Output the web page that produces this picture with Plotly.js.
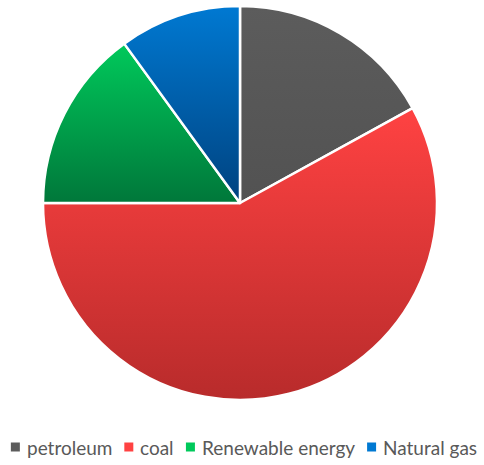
<!DOCTYPE html>
<html>
<head>
<meta charset="utf-8">
<script src="https://cdn.plot.ly/plotly-3.0.1.min.js"></script>
<style>
  html, body { margin: 0; padding: 0; background: #fff; }
  #chart { width: 484px; height: 465px; }
</style>
</head>
<body>
<div id="chart"></div>
<script>
// energy sources and their share (in %)
const labels = ['petroleum', 'coal', 'Renewable energy', 'Natural gas'];
const shares = [17, 58, 15, 10];
// top / bottom shade of each slice (Office style gradient)
const topColors = ['#5c5c5c', '#ff4242', '#00c95b', '#0079d2'];
const bottomColors = ['#525252', '#b82b2b', '#00773a', '#00427f'];

const W = 484, H = 465;
const M = { l: 43, r: 47, t: 6, b: 65 };
const plotW = W - M.l - M.r, plotH = H - M.t - M.b;

// pixel -> paper helpers for the hand made legend row
const px2x = (px) => (px - M.l) / plotW;
const py2y = (py) => (H - M.b - py) / plotH;

const legendFont = { family: 'Lato, sans-serif', size: 19, color: '#595959' };
const legendY = 447;
const boxSize = 9, boxGap = 7, itemGap = 12;

function textWidth(str) {
    const ctx = document.createElement('canvas').getContext('2d');
    ctx.font = legendFont.size + 'px Lato';
    return ctx.measureText(str).width;
}

const widths = labels.map(textWidth);
const total = widths.reduce((a, w) => a + boxSize + boxGap + w, 0) + itemGap * (labels.length - 1);
let cursor = 244 - total / 2;

const annotations = [];
const shapes = [];
labels.forEach((lab, i) => {
    shapes.push({
        type: 'rect', xref: 'paper', yref: 'paper',
        xsizemode: 'pixel', ysizemode: 'pixel',
        xanchor: px2x(cursor + boxSize / 2), yanchor: py2y(legendY),
        x0: -boxSize / 2, x1: boxSize / 2, y0: -boxSize / 2, y1: boxSize / 2,
        fillcolor: topColors[i], line: { width: 0 }
    });
    cursor += boxSize + boxGap;
    annotations.push({
        text: lab, xref: 'paper', yref: 'paper',
        x: px2x(cursor - 2), y: py2y(legendY),
        xanchor: 'left', yanchor: 'middle',
        showarrow: false, font: legendFont
    });
    cursor += widths[i] + itemGap;
});

const trace = {
    type: 'pie',
    labels: labels,
    values: shares,
    sort: false,
    direction: 'clockwise',
    rotation: 0,
    textinfo: 'none',
    hoverinfo: 'label+percent',
    marker: {
        colors: topColors,
        line: { color: '#ffffff', width: 2.5 }
    }
};

const layout = {
    width: W,
    height: H,
    margin: M,
    paper_bgcolor: '#ffffff',
    showlegend: false,
    annotations: annotations,
    shapes: shapes,
    font: { family: 'Lato, sans-serif' }
};

Plotly.newPlot('chart', [trace], layout, { displayModeBar: false, staticPlot: true }).then((gd) => {
    // vertical shading inside every slice
    const svgNS = 'http://www.w3.org/2000/svg';
    const svg = gd.querySelector('.main-svg');
    let defs = svg.querySelector('defs');
    if (!defs) { defs = document.createElementNS(svgNS, 'defs'); svg.prepend(defs); }
    gd.querySelectorAll('.slice path.surface').forEach((p, i) => {
        const g = document.createElementNS(svgNS, 'linearGradient');
        g.setAttribute('id', 'sliceGrad' + i);
        g.setAttribute('x1', '0'); g.setAttribute('y1', '0');
        g.setAttribute('x2', '0'); g.setAttribute('y2', '1');
        [[0, topColors[i]], [1, bottomColors[i]]].forEach(([o, c]) => {
            const s = document.createElementNS(svgNS, 'stop');
            s.setAttribute('offset', o);
            s.setAttribute('stop-color', c);
            g.appendChild(s);
        });
        defs.appendChild(g);
        p.style.fill = 'url(#sliceGrad' + i + ')';
    });
});
</script>
</body>
</html>
